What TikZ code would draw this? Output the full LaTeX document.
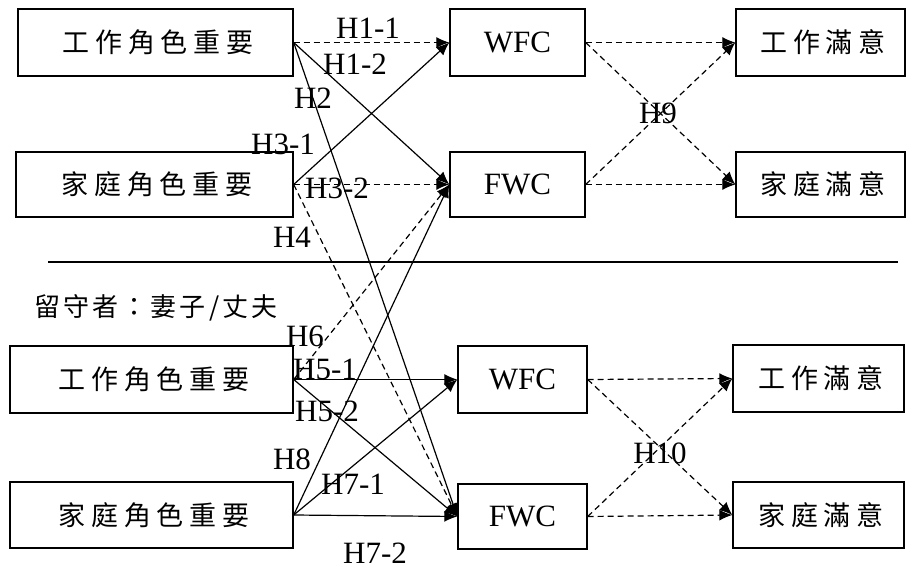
\documentclass[tikz,border=0pt]{standalone}
\usepackage{fontspec}
\setmainfont{Liberation Serif}
\newfontfamily\cjkbox[LetterSpace=22]{Noto Sans CJK TC}
\newfontfamily\cjklab[LetterSpace=12]{Noto Sans CJK TC}
\usetikzlibrary{arrows.meta}
\begin{document}
\begin{tikzpicture}[x=1pt,y=-1pt,
  box/.style={draw,line width=1.4pt,inner sep=0pt,font=\fontsize{31}{31}\selectfont},
  cjk/.style={font=\cjkbox\fontsize{27}{27}\selectfont},
  lab/.style={inner sep=0pt,font=\fontsize{31}{31}\selectfont},
  conn/.style={line width=1.2pt,-{Latex[length=13pt,width=11pt]}},
  dconn/.style={conn,dash pattern=on 6pt off 4pt}]
\useasboundingbox (0,0) rectangle (907,570);
% top section
\node[box,cjk,minimum width=275pt,minimum height=67pt] (b1) at (155.5,42.5) {\hspace{5pt}工作角色重要};
\node[box,cjk,minimum width=277pt,minimum height=65pt] (b2) at (154.5,184.5) {\hspace{5pt}家庭角色重要};
\node[box,minimum width=135pt,minimum height=67pt] (wfc1) at (517.5,42.5) {WFC};
\node[box,minimum width=135pt,minimum height=65pt] (fwc1) at (517.5,184.5) {FWC};
\node[box,cjk,minimum width=169pt,minimum height=67pt] (ws1) at (820.5,42.5) {\hspace{5pt}工作滿意};
\node[box,cjk,minimum width=169pt,minimum height=65pt] (fs1) at (820.5,184.5) {\hspace{5pt}家庭滿意};
% separator
\coordinate (sepL) at (48,262);
\coordinate (sepR) at (898,262);
\draw[line width=1.4pt] (sepL) -- (sepR);
\node[inner sep=0pt,font=\cjklab\fontsize{26}{26}\selectfont] (stay) at (156,308) {留守者：妻子/丈夫};
% bottom section
\node[box,cjk,minimum width=283pt,minimum height=67pt] (b3) at (151.5,379.5) {\hspace{5pt}工作角色重要};
\node[box,cjk,minimum width=283pt,minimum height=66pt] (b4) at (151.5,515) {\hspace{5pt}家庭角色重要};
\node[box,minimum width=129pt,minimum height=67pt] (wfc2) at (522.5,379.5) {WFC};
\node[box,minimum width=129pt,minimum height=65pt] (fwc2) at (522.5,516.5) {FWC};
\node[box,cjk,minimum width=171pt,minimum height=67pt] (ws2) at (818.5,378.5) {\hspace{5pt}工作滿意};
\node[box,cjk,minimum width=171pt,minimum height=66pt] (fs2) at (818.5,515) {\hspace{5pt}家庭滿意};
% top connectors
\draw[dconn] (b1.east) -- (wfc1.west);
\draw[conn] (b1.east) -- (fwc1.west);
\draw[conn] (b1.east) -- (fwc2.west);
\draw[conn] (b2.east) -- (wfc1.west);
\draw[dconn] (b2.east) -- (fwc1.west);
\draw[dconn] (b2.east) -- (fwc2.west);
\draw[dconn] (b3.east) -- (fwc1.west);
\draw[conn] (b4.east) -- (fwc1.west);
% bottom connectors
\draw[conn] (b3.east) -- (wfc2.west);
\draw[conn] (b3.east) -- (fwc2.west);
\draw[conn] (b4.east) -- (wfc2.west);
\draw[conn] (b4.east) -- (fwc2.west);
% outcomes
\draw[dconn] (wfc1.east) -- (ws1.west);
\draw[dconn] (wfc1.east) -- (fs1.west);
\draw[dconn] (fwc1.east) -- (ws1.west);
\draw[dconn] (fwc1.east) -- (fs1.west);
\draw[dconn] (wfc2.east) -- (ws2.west);
\draw[dconn] (wfc2.east) -- (fs2.west);
\draw[dconn] (fwc2.east) -- (ws2.west);
\draw[dconn] (fwc2.east) -- (fs2.west);
% labels
\node[lab] (h11) at (368,28) {H1-1};
\node[lab] (h12) at (355,64) {H1-2};
\node[lab] (h2) at (313,98) {H2};
\node[lab] (h31) at (283,144) {H3-1};
\node[lab] (h32) at (337,188) {H3-2};
\node[lab] (h4) at (292,237) {H4};
\node[lab] (h9) at (658,113) {H9};
\node[lab] (h6) at (305,336) {H6};
\node[lab] (h51) at (325,369) {H5-1};
\node[lab] (h52) at (327,411) {H5-2};
\node[lab] (h8) at (292,459) {H8};
\node[lab] (h71) at (353,484) {H7-1};
\node[lab] (h72) at (375,553) {H7-2};
\node[lab] (h10) at (660,453) {H10};
\end{tikzpicture}
\end{document}
